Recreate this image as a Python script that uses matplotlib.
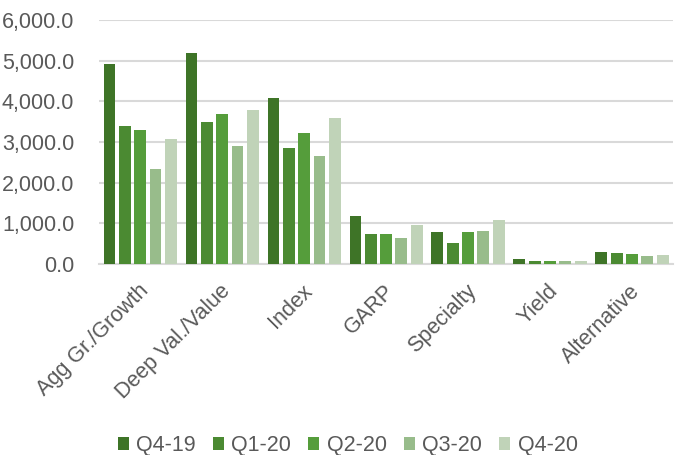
import numpy as np
import matplotlib
matplotlib.use('Agg')
import matplotlib.pyplot as plt
from matplotlib.ticker import FuncFormatter

#-------------------------------------------------------------------------------------
categories = ['Agg Gr./Growth', 'Deep Val./Value', 'Index', 'GARP', 'Specialty', 'Yield', 'Alternative']
series = ['Q4-19', 'Q1-20', 'Q2-20', 'Q3-20', 'Q4-20']

q4_19 = [4925, 5190, 4080, 1170, 790, 110, 300]
q1_20 = [3390, 3490, 2845, 745, 520, 80, 265]
q2_20 = [3300, 3690, 3230, 745, 785, 75, 235]
q3_20 = [2345, 2910, 2655, 645, 815, 65, 195]
q4_20 = [3065, 3790, 3595, 950, 1070, 60, 230]
values = [q4_19, q1_20, q2_20, q3_20, q4_20]

colors = ['#3E7427', '#4B8A32', '#559D3B', '#98BC8B', '#C0D3B8']
#-------------------------------------------------------------------------------------

plt.rcParams['font.family'] = ['Liberation Sans', 'DejaVu Sans']
txt = '#595959'

fig = plt.figure(figsize=(6.75, 4.55), dpi=100)
ax = fig.add_axes([0.147, 0.42, 0.85, 0.536])

x = np.arange(len(categories))
step = 0.187
width = 0.145
for i, (name, vals) in enumerate(zip(series, values)):
    ax.bar(x + (i - 2) * step, vals, width, color=colors[i], label=name, zorder=3)

ax.set_ylim(0, 6000)
ax.set_yticks(np.arange(0, 6001, 1000))
ax.yaxis.set_major_formatter(FuncFormatter(lambda v, p: format(v, ',.1f')))
ax.set_xlim(-0.5, len(categories) - 0.5)
ax.grid(axis='y', color='#D9D9D9', linewidth=1.5, zorder=0)
for s in ['top', 'right', 'left']:
    ax.spines[s].set_visible(False)
ax.spines['bottom'].set_color('#D9D9D9')
ax.spines['bottom'].set_linewidth(1.5)
ax.tick_params(axis='both', length=0, colors=txt, labelsize=15.5)
ax.tick_params(axis='y', pad=18)
ax.tick_params(axis='x', pad=12)

ax.set_xticks(x - 0.03)
ax.set_xticklabels(categories, rotation=45, ha='right', va='top', rotation_mode='anchor')
for lab in ax.get_xticklabels():
    lab.set_color(txt)

leg = fig.legend(loc='lower center', bbox_to_anchor=(0.515, -0.045), ncol=5, frameon=False,
                 fontsize=15.5, handlelength=0.5, handleheight=0.5, handletextpad=0.35,
                 columnspacing=0.8, labelcolor=txt)

fig.savefig('out.png', dpi=100)
